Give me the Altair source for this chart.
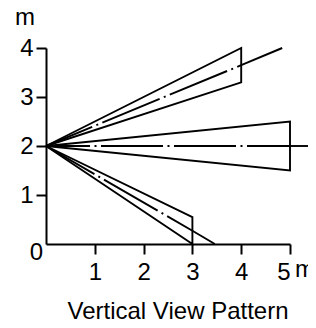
import altair as alt
import pandas as pd

# Beam outlines (x in m, y in m)
outline_x = [[0, 4, 4, 0], [0, 5, 5, 0], [0, 3, 3, 0]]
outline_y = [[2, 4, 3.3, 2], [2, 2.5, 1.5, 2], [2, 0.55, 0, 2]]

# Beam centre lines (dash-dot part)
centre_x = [[0, 4], [0, 5], [0, 3]]
centre_y = [[2, 3.65], [2, 2], [2, 0.27]]

# Solid extensions of the centre lines
ext_x = [[4, 4.84], [5, 5.5], [3, 3.46]]
ext_y = [[3.65, 4.0], [2, 2], [0.27, 0]]

x_ticks = [1, 2, 3, 4, 5]
y_ticks = [1, 2, 3, 4]
title_text = "Vertical View Pattern"


def frame(xs_list, ys_list):
    rows = []
    for k, (xs, ys) in enumerate(zip(xs_list, ys_list)):
        for i, (a, b) in enumerate(zip(xs, ys)):
            rows.append({"id": k, "i": i, "x": a, "y": b})
    return pd.DataFrame(rows)


FONT = "Liberation Sans"
FS = 24
xs = alt.Scale(domain=[0, 5], nice=False, zero=False)
ys = alt.Scale(domain=[0, 4], nice=False, zero=False)
xaxis = alt.Axis(values=x_ticks, title=None, grid=False, labelPadding=6)
yaxis = alt.Axis(values=y_ticks, title=None, grid=False, labelPadding=3)
X = alt.X("x:Q", scale=xs, axis=xaxis)
Y = alt.Y("y:Q", scale=ys, axis=yaxis)

SW = 1.9
outline = alt.Chart(frame(outline_x, outline_y)).mark_line(
    color="black", strokeWidth=SW, strokeJoin="miter"
).encode(x=X, y=Y, detail="id:N", order="i:Q")

ext = alt.Chart(frame(ext_x, ext_y)).mark_line(
    color="black", strokeWidth=SW
).encode(x=X, y=Y, detail="id:N", order="i:Q")

layers = [outline, ext]
offsets = [12, 18, 6]
for k in range(3):
    df = frame([centre_x[k]], [centre_y[k]])
    layers.append(
        alt.Chart(df).mark_line(
            color="black", strokeWidth=SW, strokeDash=[62, 4.5, 2, 4.5],
            strokeDashOffset=offsets[k]
        ).encode(x=X, y=Y, detail="id:N", order="i:Q")
    )

def label(txt, xv, yv, dx, dy, align):
    df = pd.DataFrame({"x": [xv], "y": [yv], "t": [txt]})
    return alt.Chart(df).mark_text(
        text=txt, font=FONT, fontSize=FS, color="black", align=align,
        baseline="alphabetic", dx=dx, dy=dy
    ).encode(x=X, y=Y)

layers.append(label("0", 0, 0, -9.5, 16, "center"))
layers.append(label("m", 0, 4, -21, -23, "center"))
layers.append(label("m", 5, 0, 5, 33, "left"))

chart = alt.layer(*layers).properties(
    width=244, height=196,
    autosize=alt.AutoSizeParams(type="none"),
    padding={"left": 38, "top": 40, "right": 18, "bottom": 76},
    title=alt.Title(
        text=title_text, orient="bottom", anchor="middle", fontSize=FS,
        font=FONT, fontWeight="normal", color="black", offset=16, dx=10
    ),
).configure_view(stroke=None).configure_axis(
    domainColor="black", domainWidth=2, tickColor="black", tickWidth=2,
    tickSize=10, labelColor="black", labelFont=FONT, labelFontSize=FS
)

chart.save("out.html", embed_options={"renderer": "svg", "actions": False})
